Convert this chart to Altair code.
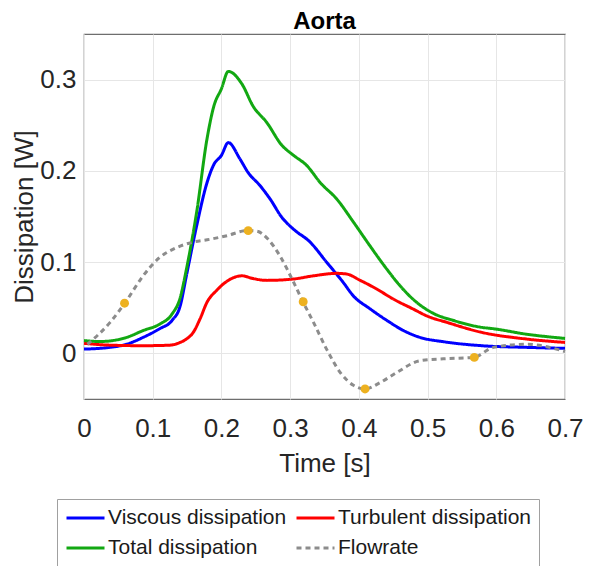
import altair as alt
import pandas as pd

FONT = "Liberation Sans"

# legend fills column by column: col 1 = Viscous, Total ; col 2 = Turbulent, Flowrate
series_names = ["Viscous dissipation", "Total dissipation", "Turbulent dissipation", "Flowrate"]
series_colors = ["#0000FF", "#12A812", "#FF0000", "#8C8C8C"]
series_dash = [[1, 0], [1, 0], [1, 0], [5, 4]]
series_width = [3, 3, 3, 1.8]

viscous_t = [0.0, 0.038, 0.062, 0.086, 0.11, 0.128, 0.14, 0.149, 0.164, 0.179, 0.189, 0.2, 0.21,
             0.227, 0.239, 0.256, 0.271, 0.288, 0.305, 0.329, 0.353, 0.377, 0.392, 0.416, 0.441,
             0.465, 0.489, 0.523, 0.579, 0.644, 0.7]
viscous_v = [0.0047, 0.0066, 0.010, 0.0175, 0.027, 0.036, 0.052, 0.085, 0.14, 0.187, 0.207, 0.217, 0.231,
             0.213, 0.198, 0.184, 0.169, 0.149, 0.136, 0.122, 0.100, 0.078, 0.063, 0.049, 0.036,
             0.025, 0.0175, 0.0128, 0.0084, 0.0066, 0.0055]

turbulent_t = [0.0, 0.038, 0.086, 0.125, 0.14, 0.149, 0.159, 0.169, 0.179, 0.193, 0.208, 0.23, 0.246,
               0.266, 0.305, 0.334, 0.368, 0.382, 0.402, 0.426, 0.45, 0.479, 0.499, 0.528, 0.579, 0.644, 0.7]
turbulent_v = [0.011, 0.009, 0.0084, 0.009, 0.012, 0.0157, 0.023, 0.038, 0.056, 0.069, 0.079, 0.085, 0.082,
               0.080, 0.0815, 0.085, 0.0877, 0.087, 0.080, 0.0705, 0.0596, 0.0486, 0.041, 0.034, 0.023, 0.0157, 0.012]

total_t = [0.0, 0.023, 0.062, 0.086, 0.11, 0.128, 0.14, 0.149, 0.164, 0.179, 0.189, 0.2, 0.21, 0.23,
           0.246, 0.266, 0.288, 0.305, 0.324, 0.344, 0.368, 0.392, 0.416, 0.441, 0.46, 0.484, 0.508,
           0.538, 0.579, 0.596, 0.644, 0.7]
total_v = [0.014, 0.013, 0.0175, 0.025, 0.032, 0.043, 0.061, 0.092, 0.155, 0.235, 0.271, 0.29, 0.309, 0.295,
           0.271, 0.253, 0.228, 0.217, 0.206, 0.187, 0.169, 0.144, 0.118, 0.092, 0.074, 0.056, 0.044,
           0.036, 0.0285, 0.027, 0.021, 0.0164]

flow_t = [0.005, 0.038, 0.062, 0.086, 0.11, 0.135, 0.159, 0.183, 0.208, 0.237, 0.251, 0.268, 0.285,
          0.305, 0.319, 0.334, 0.353, 0.373, 0.392, 0.409, 0.431, 0.455, 0.489, 0.523, 0.567, 0.596, 0.644, 0.7]
flow_v = [0.010, 0.034, 0.058, 0.085, 0.105, 0.116, 0.122, 0.125, 0.129, 0.1345, 0.134, 0.125, 0.107,
          0.078, 0.056, 0.034, 0.0047, -0.021, -0.035, -0.039, -0.032, -0.021, -0.008, -0.006, -0.0044, 0.0066, 0.010, 0.002]

dot_t = [0.059, 0.239, 0.319, 0.409, 0.568]
dot_v = [0.055, 0.1345, 0.0566, -0.039, -0.0044]

x_ticks = [0, 0.1, 0.2, 0.3, 0.4, 0.5, 0.6, 0.7]
y_ticks = [0, 0.1, 0.2, 0.3]

rows = []
for name, ts, vs in [("Viscous dissipation", viscous_t, viscous_v),
                     ("Turbulent dissipation", turbulent_t, turbulent_v),
                     ("Total dissipation", total_t, total_v),
                     ("Flowrate", flow_t, flow_v)]:
    for i, (t, v) in enumerate(zip(ts, vs)):
        rows.append({"series": name, "t": t, "v": v, "order": i})
lines_df = pd.DataFrame(rows)
dots_df = pd.DataFrame({"t": dot_t, "v": dot_v})

W, H = 481, 365

x_enc = alt.X("t:Q", scale=alt.Scale(domain=[0, 0.7], nice=False, zero=False),
              axis=alt.Axis(values=x_ticks, format="~g", title="Time [s]",
                            titleFont=FONT, titleFontSize=26, titleFontWeight="normal", titleColor="#262626",
                            titleX=W / 2, titleY=64, titleBaseline="middle", titleAlign="center",
                            labelFont=FONT, labelFontSize=26, labelColor="#262626", labelPadding=16,
                            tickSize=0, domain=False, grid=True, gridColor="#E6E6E6", gridWidth=1,
                            labelFlush=False))
y_enc = alt.Y("v:Q", scale=alt.Scale(domain=[-0.05, 0.35], nice=False, zero=False),
              axis=alt.Axis(values=y_ticks, format="~g", title="Dissipation [W]",
                            titleFont=FONT, titleFontSize=26, titleFontWeight="normal", titleColor="#262626",
                            titleX=-60, titleY=H / 2, titleBaseline="middle", titleAlign="center", titleAngle=270,
                            labelFont=FONT, labelFontSize=26, labelColor="#262626", labelPadding=8,
                            tickSize=0, domain=False, grid=True, gridColor="#E6E6E6", gridWidth=1))

# custom line symbol: 19px nominal size, path drawn from -1 to +3 units -> 38px line
legend = alt.Legend(title=None, orient="none", legendX=-27, legendY=465, columns=2,
                    symbolType="M-1,0H3", symbolSize=361, symbolStrokeWidth=2.5,
                    symbolFillColor="transparent",
                    labelFont=FONT, labelFontSize=21, labelColor="#1a1a1a", labelOffset=21, labelLimit=400,
                    strokeColor="#A0A0A0", fillColor="white", padding=8,
                    rowPadding=9, columnPadding=3)

lines = alt.Chart(lines_df).mark_line(interpolate="monotone").encode(
    x=x_enc,
    y=y_enc,
    color=alt.Color("series:N", scale=alt.Scale(domain=series_names, range=series_colors), legend=legend),
    strokeDash=alt.StrokeDash("series:N", scale=alt.Scale(domain=series_names, range=series_dash), legend=legend),
    strokeWidth=alt.StrokeWidth("series:N", scale=alt.Scale(domain=series_names, range=series_width), legend=None),
    order="order:Q",
)

dots = alt.Chart(dots_df).mark_circle(size=80, opacity=1, color="#EDB120").encode(
    x=x_enc, y=y_enc,
)

chart = alt.layer(lines, dots).properties(
    width=W, height=H,
    title=alt.TitleParams("Aorta", font=FONT, fontSize=24, fontWeight="bold", color="#000000",
                          anchor="middle", offset=0),
    autosize=alt.AutoSizeParams(type="none"),
    padding={"left": 76, "top": 26, "right": 40, "bottom": 167},
).configure_view(stroke="#6E6E6E", strokeWidth=1.2)

chart.save("out.html", embed_options={"renderer": "svg", "actions": False})
